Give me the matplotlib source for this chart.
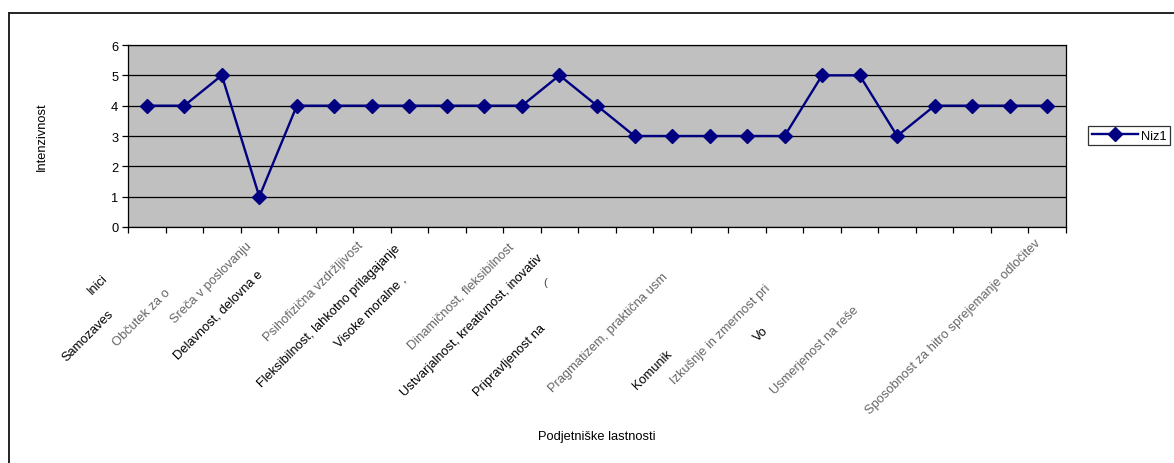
import matplotlib
matplotlib.use("Agg")
import matplotlib.pyplot as plt
from matplotlib.lines import Line2D

plt.rcParams['font.family'] = ['Liberation Sans', 'DejaVu Sans']

# Intensity rating for each entrepreneurial trait
values = [4, 4, 5, 1, 4, 4, 4, 4, 4, 4, 4, 5, 4, 3, 3, 3, 3, 3, 5, 5, 3, 4, 4, 4, 4]
series_name = "Niz1"
y_ticks = [0, 1, 2, 3, 4, 5, 6]

# Category label texts as they appear below the axis (overlapping labels are cut short)
label_texts = [
    "Inici", "Samozaves", "Občutek za o", "Sreča v poslovanju",
    "Delavnost, delovna e", "Psihofizična vzdržljivost",
    "Fleksibilnost, lahkotno prilagajanje", "Visoke moralne ,",
    "Dinamičnost, fleksibilnost", "Ustvarjalnost, kreativnost, inovativ",
    "Pripravljenost na", "Pragmatizem, praktična usm", "Komunik",
    "Izkušnje in zmernost pri", "Vo", "Usmerjenost na reše",
    "Sposobnost za hitro sprejemanje odločitev",
]
label_gray = [False, False, True, True, False, True, False, False, True,
              False, False, True, False, True, False, True, True]
# baseline start of each label, in axes fraction
label_pos = [
    (-0.0387, -0.368), (-0.0654, -0.735), (-0.0120, -0.652), (0.0501, -0.527),
    (0.0536, -0.725), (0.1496, -0.625), (0.1425, -0.881), (0.2253, -0.661),
    (0.3024, -0.670), (0.2953, -0.927), (0.3735, -0.927), (0.4534, -0.908),
    (0.5423, -0.890), (0.5832, -0.863), (0.6720, -0.625), (0.6898, -0.918),
    (0.7910, -1.027),
]

FS = 9.3
W, H = 1174, 464
fig = plt.figure(figsize=(W / 100, H / 100), dpi=100)
fig.patch.set_facecolor("white")

ax = fig.add_axes([128 / W, 1 - 228 / H, 938 / W, 182 / H])
ax.set_facecolor("#C0C0C0")

x = list(range(len(values)))
line, = ax.plot(x, values, color="#000080", lw=1.7, marker="D", markersize=7.2,
                markerfacecolor="#000080", markeredgecolor="#000080",
                label=series_name, zorder=3, clip_on=False)

ax.set_xlim(-0.5, len(values) - 0.5)
ax.set_ylim(0, 6)
ax.set_yticks(y_ticks)
ax.set_yticklabels([str(v) for v in y_ticks], fontsize=FS)
ax.set_xticks([i - 0.5 for i in range(len(values) + 1)])
ax.set_xticklabels([])
ax.tick_params(axis="both", direction="out", length=4, width=0.9, color="black")
ax.tick_params(axis="y", pad=3)
ax.grid(axis="y", color="black", lw=0.9)
ax.set_axisbelow(True)
for s in ax.spines.values():
    s.set_color("black")
    s.set_linewidth(0.9)

for txt, gray, (px, py) in zip(label_texts, label_gray, label_pos):
    ax.text(px, py, txt, transform=ax.transAxes, rotation=45,
            rotation_mode="anchor", ha="left", va="baseline", fontsize=FS,
            color="#666666" if gray else "black", clip_on=False)
ax.text(0.4446, -0.302, "(", transform=ax.transAxes, ha="center", va="center",
        fontsize=8, color="#444444")

fig.text(42 / W, 1 - 137 / H, "Intenzivnost", rotation=90, ha="center",
         va="center", fontsize=FS)
fig.text(597 / W, 1 - 437 / H, "Podjetniške lastnosti", ha="center",
         va="center", fontsize=FS)

leg = fig.legend(handles=[line], loc="center left",
                 bbox_to_anchor=(1088 / W, 1 - 136.5 / H), fontsize=FS,
                 frameon=True, fancybox=False, handlelength=3.6,
                 borderpad=0.3, handletextpad=0.2, borderaxespad=0)
leg.get_frame().set_edgecolor("black")
leg.get_frame().set_linewidth(0.9)

# chart area border (top and left edges)
fig.add_artist(Line2D([9 / W, 1], [1 - 14 / H, 1 - 14 / H], color="#222222",
                      lw=1.4, transform=fig.transFigure))
fig.add_artist(Line2D([9 / W, 9 / W], [0, 1 - 14 / H], color="#222222",
                      lw=1.4, transform=fig.transFigure))

fig.savefig("out.png", dpi=100)
